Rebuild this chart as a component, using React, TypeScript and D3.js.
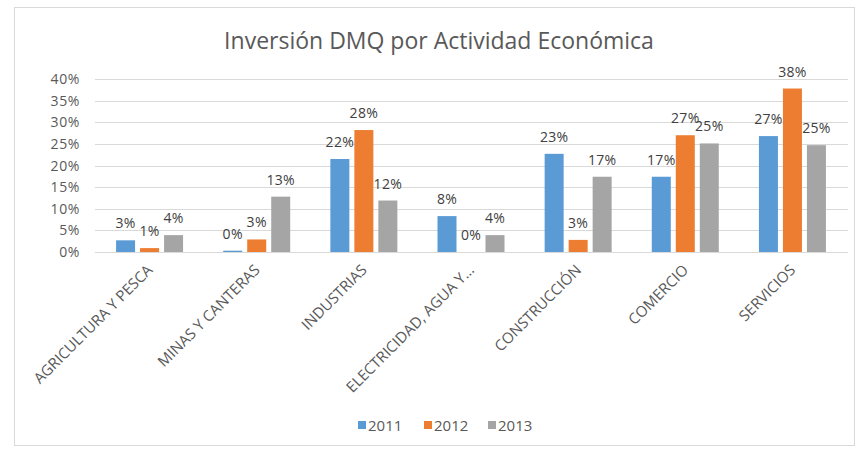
import { useEffect, useRef } from "react"
import * as d3 from "d3"

const categories = [
  "AGRICULTURA Y PESCA",
  "MINAS Y CANTERAS",
  "INDUSTRIAS",
  "ELECTRICIDAD, AGUA Y...",
  "CONSTRUCCIÓN",
  "COMERCIO",
  "SERVICIOS",
]
const years = ["2011", "2012", "2013"]
const values2011 = [2.7, 0.3, 21.5, 8.3, 22.7, 17.4, 26.8]
const values2012 = [0.9, 2.9, 28.2, 0.0, 2.8, 27.0, 37.8]
const values2013 = [3.9, 12.8, 11.9, 3.9, 17.4, 25.1, 24.7]
const yTicks = [0, 5, 10, 15, 20, 25, 30, 35, 40]
const colors = ["#5B9BD5", "#ED7D31", "#A5A5A5"]

const W = 858
const H = 449
const FONT = "'Open Sans', 'DejaVu Sans', sans-serif"

export default function App() {
  const svgRef = useRef<SVGSVGElement>(null)

  useEffect(() => {
    if (!svgRef.current) return
    const root = d3.select(svgRef.current)
    root.selectAll("*").remove()

    const series = [values2011, values2012, values2013]
    const left = 96
    const right = 846
    const top = 79
    const bottom = 252

    const x0 = d3.scaleBand().domain(categories).range([left, right])
    const x1 = d3.scaleBand().domain(years).range([-33.5, 33.5]).paddingInner(5 / 24)
    const y = d3.scaleLinear().domain([0, 40]).range([bottom, top])

    // chart frame
    root
      .append("rect")
      .attr("x", 14.5)
      .attr("y", 7.5)
      .attr("width", 840)
      .attr("height", 438)
      .attr("fill", "white")
      .attr("stroke", "#d9d9d9")

    // title
    root
      .append("text")
      .attr("x", 439)
      .attr("y", 49)
      .attr("text-anchor", "middle")
      .style("font-family", FONT)
      .style("font-size", "23px")
      .attr("fill", "#595959")
      .text("Inversión DMQ por Actividad Económica")

    // gridlines
    root
      .append("g")
      .selectAll("line")
      .data(yTicks)
      .enter()
      .append("line")
      .attr("x1", left - 1)
      .attr("x2", right + 2)
      .attr("y1", (d) => Math.round(y(d)) + 0.5)
      .attr("y2", (d) => Math.round(y(d)) + 0.5)
      .attr("stroke", "#d9d9d9")
      .attr("stroke-width", 1)

    // y labels
    root
      .append("g")
      .selectAll("text")
      .data(yTicks)
      .enter()
      .append("text")
      .attr("x", 80)
      .attr("y", (d) => y(d) + 5)
      .attr("text-anchor", "end")
      .style("font-family", FONT)
      .style("font-size", "14px")
      .style("letter-spacing", "0.6px")
      .attr("fill", "#595959")
      .text((d) => `${d}%`)

    // bars + labels
    series.forEach((vals, si) => {
      const g = root.append("g")
      g.selectAll("rect")
        .data(vals)
        .enter()
        .append("rect")
        .attr("x", (d, i) => (x0(categories[i]) || 0) + x0.bandwidth() / 2 + (x1(years[si]) || 0))
        .attr("y", (d) => y(d))
        .attr("width", x1.bandwidth())
        .attr("height", (d) => bottom - y(d))
        .attr("fill", colors[si])

      g.selectAll("text")
        .data(vals)
        .enter()
        .append("text")
        .attr("x", (d, i) => (x0(categories[i]) || 0) + x0.bandwidth() / 2 + (x1(years[si]) || 0) + x1.bandwidth() / 2)
        .attr("y", (d) => y(d) - 12)
        .attr("text-anchor", "middle")
        .style("font-family", FONT)
        .style("font-size", "14px")
        .style("letter-spacing", "0.3px")
        .attr("fill", "#404040")
        .text((d) => `${Math.round(d)}%`)
    })

    // x labels
    root
      .append("g")
      .selectAll("text")
      .data(categories)
      .enter()
      .append("text")
      .attr("transform", (d) => `translate(${(x0(d) || 0) + x0.bandwidth() / 2 + 4}, 271) rotate(-45)`)
      .attr("text-anchor", "end")
      .style("font-family", FONT)
      .style("font-size", "15px")
      .attr("fill", "#595959")
      .text((d) => d)

    // legend
    const legendX = [358, 424, 488]
    const legend = root
      .append("g")
      .selectAll("g")
      .data(years)
      .enter()
      .append("g")
      .attr("transform", (d, i) => `translate(${legendX[i]}, 425)`)
    legend
      .append("rect")
      .attr("x", 0)
      .attr("y", -4)
      .attr("width", 8)
      .attr("height", 8)
      .attr("fill", (d, i) => colors[i])
    legend
      .append("text")
      .attr("x", 10)
      .attr("y", 5.5)
      .style("font-family", FONT)
      .style("font-size", "15px")
      .attr("fill", "#595959")
      .text((d) => d)
  }, [])

  return (
    <div style={{ position: "fixed", left: 0, top: 0, width: W, height: H, background: "white" }}>
      <svg ref={svgRef} width={W} height={H}></svg>
    </div>
  )
}
